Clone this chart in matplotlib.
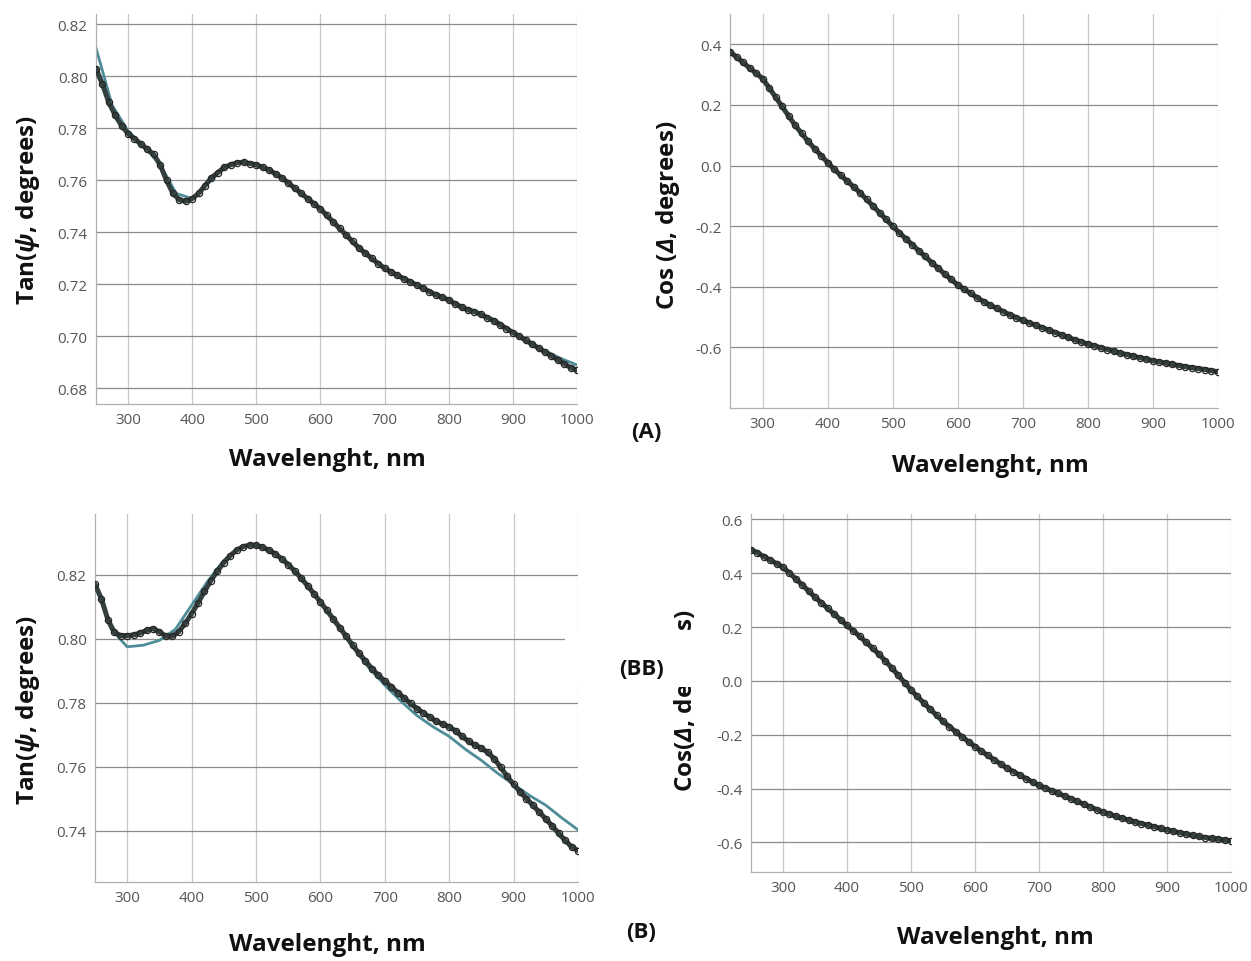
import numpy as np
import matplotlib
matplotlib.use('Agg')
import matplotlib.pyplot as plt
from matplotlib.patches import Rectangle

plt.rcParams['font.family'] = ['Open Sans', 'DejaVu Sans']
plt.rcParams['mathtext.fontset'] = 'custom'
plt.rcParams['mathtext.rm'] = 'Open Sans'
plt.rcParams['mathtext.bfit'] = 'Open Sans:italic:bold'
plt.rcParams['mathtext.it'] = 'Open Sans:italic:bold'

# measured wavelengths (10 nm) and model wavelengths (25 nm)
wl = list(range(250, 1001, 10))
wl_model = list(range(250, 1001, 25))

# (A) Tan(psi)
tan_a_exp = [0.803, 0.797, 0.790, 0.785, 0.781, 0.778, 0.776, 0.774, 0.772, 0.770,
             0.766, 0.760, 0.755, 0.7525, 0.752, 0.753, 0.755, 0.758, 0.761, 0.763,
             0.765, 0.766, 0.7668, 0.767, 0.7665, 0.766, 0.765, 0.764, 0.7625, 0.761,
             0.759, 0.757, 0.755, 0.753, 0.751, 0.749, 0.7465, 0.744, 0.7415, 0.739,
             0.7365, 0.734, 0.732, 0.730, 0.728, 0.7262, 0.7248, 0.7235, 0.7222, 0.721,
             0.7198, 0.7185, 0.7172, 0.716, 0.715, 0.714, 0.7125, 0.7112, 0.7102, 0.7095,
             0.7085, 0.7072, 0.706, 0.7045, 0.703, 0.7015, 0.700, 0.6985, 0.697, 0.6955,
             0.694, 0.6925, 0.691, 0.6895, 0.688, 0.687]
tan_a_fit = [0.811, 0.789, 0.779, 0.773, 0.766, 0.755, 0.753, 0.759, 0.7648, 0.767,
             0.7665, 0.7635, 0.759, 0.754, 0.749, 0.743, 0.7365, 0.731, 0.7265, 0.723,
             0.720, 0.7168, 0.7142, 0.7112, 0.7088, 0.706, 0.7018, 0.698, 0.6945, 0.6915,
             0.689]

# (A) Cos(Delta)
cos_a_exp = [0.375, 0.358, 0.340, 0.322, 0.305, 0.287, 0.257, 0.226, 0.195, 0.164,
             0.133, 0.106, 0.080, 0.056, 0.033, 0.010, -0.012, -0.032, -0.051, -0.070,
             -0.090, -0.112, -0.134, -0.156, -0.178, -0.200, -0.221, -0.241, -0.261, -0.281,
             -0.300, -0.320, -0.339, -0.358, -0.376, -0.394, -0.408, -0.422, -0.436, -0.449,
             -0.461, -0.471, -0.482, -0.492, -0.502, -0.511, -0.519, -0.527, -0.535, -0.543,
             -0.551, -0.559, -0.567, -0.575, -0.582, -0.589, -0.595, -0.601, -0.607, -0.613,
             -0.619, -0.624, -0.629, -0.634, -0.639, -0.644, -0.648, -0.652, -0.656, -0.660,
             -0.664, -0.667, -0.670, -0.673, -0.677, -0.680]
cos_a_fit = [0.380, 0.331, 0.287, 0.210, 0.133, 0.068, 0.010, -0.041, -0.090, -0.145,
             -0.200, -0.251, -0.300, -0.348, -0.394, -0.429, -0.461, -0.487, -0.511, -0.531,
             -0.551, -0.571, -0.589, -0.604, -0.619, -0.632, -0.644, -0.654, -0.664, -0.672,
             -0.680]

# (B) Tan(psi)
tan_b_exp = [0.817, 0.8125, 0.806, 0.802, 0.801, 0.801, 0.8012, 0.8018, 0.8026, 0.8032,
             0.8022, 0.8008, 0.8008, 0.8022, 0.8048, 0.8078, 0.8112, 0.8148, 0.8182, 0.8212,
             0.8238, 0.826, 0.8277, 0.8288, 0.8293, 0.8292, 0.8286, 0.8277, 0.8265, 0.825,
             0.8232, 0.8212, 0.819, 0.8166, 0.8141, 0.8115, 0.8089, 0.8062, 0.8035, 0.8008,
             0.798, 0.7955, 0.793, 0.7907, 0.7886, 0.7868, 0.785, 0.7832, 0.7815, 0.7798,
             0.7782, 0.7768, 0.7755, 0.7742, 0.7733, 0.7725, 0.7712, 0.7695, 0.768, 0.7668,
             0.7658, 0.7645, 0.7625, 0.7598, 0.757, 0.7545, 0.7522, 0.750, 0.748, 0.7458,
             0.7437, 0.7415, 0.7392, 0.737, 0.735, 0.7338]
tan_b_fit = [0.817, 0.803, 0.7975, 0.798, 0.7995, 0.803, 0.8105, 0.818, 0.8245, 0.8285,
             0.8292, 0.8275, 0.8235, 0.818, 0.8115, 0.8045, 0.7975, 0.791, 0.7855, 0.7805,
             0.776, 0.7725, 0.7695, 0.7655, 0.762, 0.758, 0.7545, 0.751, 0.748, 0.744,
             0.7403]

# (B) Cos(Delta)
cos_b_exp = [0.488, 0.476, 0.462, 0.449, 0.436, 0.422, 0.401, 0.379, 0.357, 0.334,
             0.311, 0.290, 0.269, 0.248, 0.227, 0.206, 0.186, 0.165, 0.143, 0.121,
             0.099, 0.074, 0.048, 0.021, -0.006, -0.034, -0.058, -0.082, -0.105, -0.128,
             -0.150, -0.170, -0.189, -0.208, -0.226, -0.244, -0.261, -0.277, -0.293, -0.309,
             -0.324, -0.337, -0.350, -0.363, -0.376, -0.388, -0.398, -0.408, -0.418, -0.428,
             -0.438, -0.448, -0.458, -0.468, -0.478, -0.487, -0.495, -0.503, -0.510, -0.517,
             -0.524, -0.530, -0.536, -0.542, -0.548, -0.554, -0.559, -0.564, -0.569, -0.574,
             -0.578, -0.582, -0.585, -0.588, -0.591, -0.594]
cos_b_fit = [0.490, 0.456, 0.422, 0.367, 0.311, 0.258, 0.206, 0.154, 0.099, 0.035,
             -0.034, -0.093, -0.150, -0.198, -0.244, -0.285, -0.324, -0.357, -0.388, -0.413,
             -0.438, -0.463, -0.487, -0.506, -0.524, -0.539, -0.554, -0.567, -0.578, -0.587,
             -0.594]

W, H = 1251, 962
fig = plt.figure(figsize=(W / 100, H / 100), dpi=100)


def px_axes(l, t, r, b):
    return fig.add_axes([l / W, 1 - b / H, (r - l) / W, (b - t) / H])


def style(ax, ylim, yticks, yfmt):
    ax.set_xlim(250, 1000)
    ax.set_ylim(*ylim)
    ax.set_xticks(range(300, 1001, 100))
    ax.set_yticks(yticks)
    ax.set_yticklabels([yfmt.format(v) for v in yticks])
    ax.tick_params(length=0, labelsize=11, labelcolor='#555555', pad=6)
    for s in ['top', 'right']:
        ax.spines[s].set_visible(False)
    for s in ['left', 'bottom']:
        ax.spines[s].set_color('#b0b0b0')
        ax.spines[s].set_linewidth(0.9)
    ax.xaxis.grid(True, color='#c8c8c8', lw=0.9)
    ax.yaxis.grid(True, color='#8c8c8c', lw=0.9)
    ax.set_axisbelow(True)


def draw(ax, y_exp, y_fit):
    ax.plot(wl_model, y_fit, color='#4e8d98', lw=2.0, zorder=2)
    ax.plot(wl, y_exp, color='#33403f', lw=3.6, zorder=3, solid_capstyle='round')
    ax.plot(wl, y_exp, ls='none', marker='o', ms=4.5, mfc='none', mec='#262626',
            mew=0.9, zorder=4)


ax1 = px_axes(96, 15, 577, 405)
style(ax1, (0.674, 0.824), [0.68, 0.70, 0.72, 0.74, 0.76, 0.78, 0.80, 0.82], '{:.2f}')
draw(ax1, tan_a_exp, tan_a_fit)

ax2 = px_axes(730, 15, 1218, 409)
style(ax2, (-0.80, 0.50), [-0.6, -0.4, -0.2, 0.0, 0.2, 0.4], '{:.1f}')
draw(ax2, cos_a_exp, cos_a_fit)

ax3 = px_axes(95, 515, 578, 883)
style(ax3, (0.724, 0.839), [0.74, 0.76, 0.78, 0.80, 0.82], '{:.2f}')
draw(ax3, tan_b_exp, tan_b_fit)

ax4 = px_axes(751, 515, 1231, 873)
style(ax4, (-0.71, 0.62), [-0.6, -0.4, -0.2, 0.0, 0.2, 0.4, 0.6], '{:.1f}')
draw(ax4, cos_b_exp, cos_b_fit)


def ftext(x, y, s, **kw):
    kw.setdefault('ha', 'center')
    kw.setdefault('va', 'center')
    kw.setdefault('fontweight', 'bold')
    kw.setdefault('fontsize', 17.5)
    kw.setdefault('color', '#111111')
    return fig.text(x / W, 1 - y / H, s, **kw)


tan_lab = r'Tan($\mathbfit{\psi}$, degrees)'
ftext(327, 460, 'Wavelenght, nm')
ftext(28, 210, tan_lab, rotation=90)
ftext(990, 466, 'Wavelenght, nm')
ftext(668, 215, r'Cos ($\mathbfit{\Delta}$, degrees)', rotation=90)
ftext(646, 432, '(A)', fontsize=16)

ftext(327, 945, 'Wavelenght, nm')
ftext(28, 710, tan_lab, rotation=90)
ftext(995, 938, 'Wavelenght, nm')
ftext(686, 700, r'Cos($\mathbfit{\Delta}$, degrees)', rotation=90)
ftext(641, 932, '(B)', fontsize=16)

# white patch covering part of the lower panels, with the stray label on top
fig.add_artist(Rectangle((565 / W, 1 - 688 / H), (702 - 565) / W, (688 - 632) / H,
                         transform=fig.transFigure, facecolor='white',
                         edgecolor='none', zorder=20))
ftext(641, 670, '(BB)', fontsize=16, zorder=21)

fig.savefig('out.png', dpi=100, facecolor='white')
